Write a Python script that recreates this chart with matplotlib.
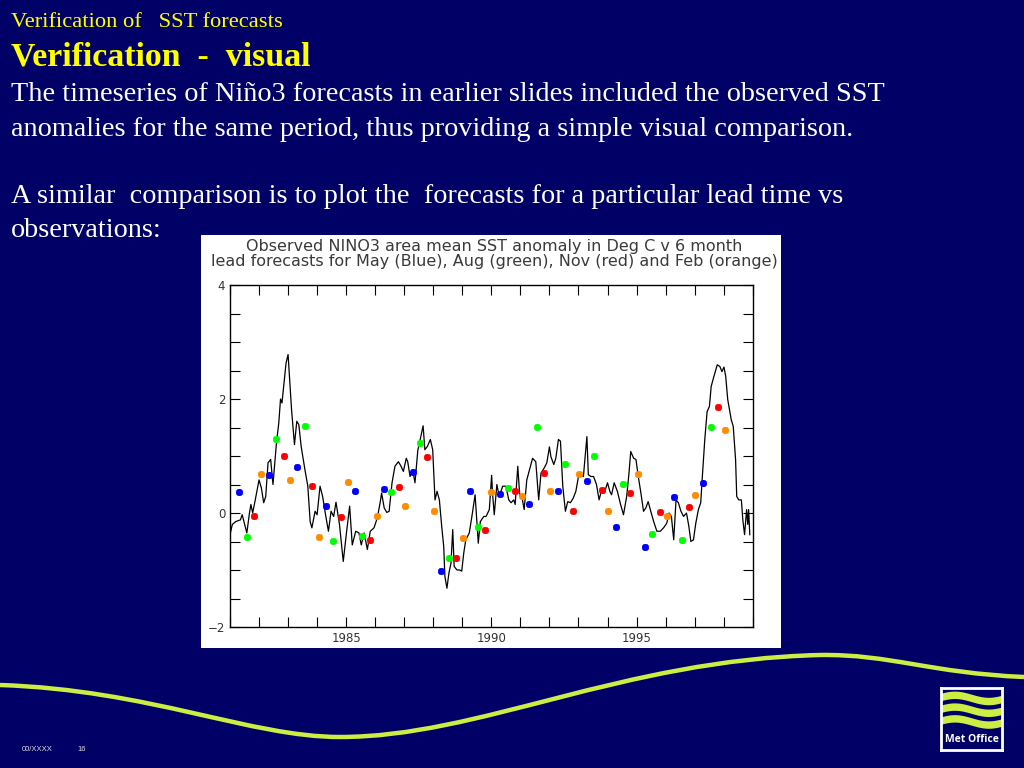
import matplotlib
matplotlib.use("Agg")
import matplotlib.pyplot as plt
import numpy as np
from matplotlib.patches import Rectangle, PathPatch
from matplotlib.path import Path

# observed Nino3 SST anomaly (year, degC)
obs_t = [1981.00, 1981.08, 1981.20, 1981.36, 1981.42, 1981.48, 1981.58, 1981.67, 1981.72, 1981.78,
         1981.87, 1982.00, 1982.08, 1982.16, 1982.23, 1982.31, 1982.40, 1982.48, 1982.60, 1982.68,
         1982.74, 1982.79, 1982.86, 1982.93, 1983.00, 1983.04, 1983.12, 1983.22, 1983.30, 1983.37,
         1983.45, 1983.58, 1983.68, 1983.76, 1983.82, 1983.93, 1984.00, 1984.10, 1984.19, 1984.29,
         1984.39, 1984.48, 1984.57, 1984.65, 1984.77, 1984.90, 1985.01, 1985.12, 1985.21, 1985.33,
         1985.44, 1985.52, 1985.62, 1985.73, 1985.83, 1985.96, 1986.07, 1986.17, 1986.22, 1986.31,
         1986.40, 1986.48, 1986.58, 1986.68, 1986.80, 1986.89, 1986.97, 1987.07, 1987.12, 1987.20,
         1987.29, 1987.37, 1987.47, 1987.55, 1987.65, 1987.71, 1987.80, 1987.90, 1987.98, 1988.06,
         1988.13, 1988.21, 1988.29, 1988.36, 1988.40, 1988.47, 1988.54, 1988.61, 1988.67, 1988.72,
         1988.82, 1988.91, 1988.98, 1989.05, 1989.12, 1989.24, 1989.33, 1989.44, 1989.51, 1989.55,
         1989.62, 1989.74, 1989.82, 1989.93, 1990.01, 1990.04, 1990.10, 1990.19, 1990.27, 1990.39,
         1990.50, 1990.60, 1990.68, 1990.77, 1990.82, 1990.91, 1990.98, 1991.05, 1991.13, 1991.22,
         1991.30, 1991.42, 1991.53, 1991.63, 1991.71, 1991.82, 1991.91, 1992.00, 1992.05, 1992.15,
         1992.22, 1992.31, 1992.38, 1992.46, 1992.55, 1992.63, 1992.72, 1992.82, 1992.91, 1993.00,
         1993.08, 1993.17, 1993.23, 1993.29, 1993.34, 1993.43, 1993.52, 1993.62, 1993.71, 1993.80,
         1993.89, 1994.00, 1994.08, 1994.14, 1994.23, 1994.34, 1994.45, 1994.55, 1994.66, 1994.74,
         1994.80, 1994.90, 1994.98, 1995.06, 1995.15, 1995.24, 1995.32, 1995.40, 1995.49, 1995.59,
         1995.70, 1995.82, 1995.93, 1996.04, 1996.12, 1996.20, 1996.28, 1996.36, 1996.44, 1996.53,
         1996.62, 1996.72, 1996.80, 1996.87, 1996.96, 1997.04, 1997.13, 1997.21, 1997.27, 1997.35,
         1997.43, 1997.51, 1997.57, 1997.65, 1997.78, 1997.87, 1997.94, 1998.01, 1998.07, 1998.14,
         1998.26, 1998.33, 1998.41, 1998.45, 1998.52, 1998.61, 1998.66, 1998.72, 1998.79, 1998.83,
         1998.86, 1998.90]
obs_v = [-0.38, -0.20, -0.15, -0.12, -0.03, -0.15, -0.35, 0.00, 0.15, 0.00,
         0.23, 0.58, 0.44, 0.18, 0.29, 0.88, 0.94, 0.50, 1.23, 1.58,
         2.00, 1.93, 2.28, 2.63, 2.78, 2.46, 1.81, 1.20, 1.61, 1.55,
         1.17, 0.76, 0.47, -0.15, -0.26, 0.03, -0.03, 0.47, 0.29, -0.03,
         -0.32, 0.03, -0.06, 0.19, -0.20, -0.85, -0.35, 0.12, -0.56, -0.32,
         -0.35, -0.56, -0.35, -0.64, -0.32, -0.26, -0.09, 0.18, 0.35, 0.09,
         0.01, 0.03, 0.53, 0.82, 0.90, 0.82, 0.73, 0.96, 0.90, 0.64,
         0.76, 0.53, 1.11, 1.29, 1.53, 1.11, 1.17, 1.29, 1.11, 0.23,
         0.38, 0.23, -0.23, -0.59, -1.11, -1.32, -1.05, -0.88, -0.29, -0.94,
         -1.00, -1.00, -1.02, -0.70, -0.47, -0.35, -0.06, 0.32, -0.23, -0.53,
         -0.15, -0.06, -0.06, 0.06, 0.66, 0.35, -0.03, 0.50, 0.29, 0.47,
         0.47, 0.23, 0.18, 0.23, 0.15, 0.82, 0.29, 0.29, 0.06, 0.58,
         0.73, 0.96, 0.90, 0.23, 0.70, 0.79, 0.88, 1.16, 0.99, 0.85,
         0.96, 1.29, 1.26, 0.47, 0.03, 0.20, 0.18, 0.26, 0.38, 0.64,
         0.67, 0.64, 0.99, 1.34, 0.67, 0.64, 0.64, 0.50, 0.23, 0.41,
         0.35, 0.53, 0.38, 0.32, 0.53, 0.38, 0.15, -0.03, 0.29, 0.70,
         1.08, 0.96, 0.94, 0.64, 0.35, 0.03, 0.09, 0.20, 0.03, -0.15,
         -0.32, -0.32, -0.26, -0.18, 0.00, -0.06, -0.47, 0.23, 0.18, 0.03,
         -0.06, 0.00, -0.23, -0.50, -0.47, -0.18, 0.06, 0.18, 0.67, 1.29,
         1.78, 1.87, 2.22, 2.37, 2.60, 2.57, 2.48, 2.56, 2.40, 1.99,
         1.64, 1.52, 0.94, 0.29, 0.23, 0.23, -0.12, -0.38, 0.06, -0.20,
         0.06, -0.38]

# 6 month lead forecasts
may_t = [1981.32, 1982.33, 1983.32, 1984.31, 1985.30, 1986.29, 1987.29, 1988.28, 1989.28,
         1990.30, 1991.30, 1992.29, 1993.28, 1994.28, 1995.29, 1996.30, 1997.28]
may_v = [0.37, 0.67, 0.80, 0.13, 0.39, 0.42, 0.72, -1.02, 0.39,
         0.34, 0.16, 0.39, 0.57, -0.25, -0.60, 0.28, 0.52]
aug_t = [1981.58, 1982.60, 1983.57, 1984.56, 1985.56, 1986.56, 1987.55, 1988.54, 1989.53,
         1990.56, 1991.56, 1992.55, 1993.54, 1994.53, 1995.54, 1996.55, 1997.55]
aug_v = [-0.42, 1.30, 1.52, -0.49, -0.40, 0.36, 1.22, -0.79, -0.25,
         0.44, 1.51, 0.86, 1.00, 0.51, -0.36, -0.48, 1.51]
nov_t = [1981.82, 1982.85, 1983.83, 1984.82, 1985.82, 1986.81, 1987.80, 1988.79, 1989.79,
         1990.81, 1991.82, 1992.81, 1993.80, 1994.79, 1995.80, 1996.79, 1997.79]
nov_v = [-0.06, 1.00, 0.48, -0.07, -0.48, 0.46, 0.98, -0.79, -0.29,
         0.39, 0.71, 0.03, 0.41, 0.35, 0.02, 0.10, 1.86]
feb_t = [1982.06, 1983.06, 1984.05, 1985.05, 1986.05, 1987.04, 1988.03, 1989.03, 1990.00,
         1991.05, 1992.03, 1993.03, 1994.02, 1995.04, 1996.05, 1997.03, 1998.03]
feb_v = [0.69, 0.58, -0.42, 0.54, -0.06, 0.13, 0.04, -0.43, 0.36,
         0.30, 0.39, 0.68, 0.03, 0.68, -0.06, 0.32, 1.46]

year_ticks = [1985, 1990, 1995]
value_ticks = [-2, 0, 2, 4]

W, H = 1024, 768
NAVY = "#000066"
LIME = "#CCEE44"


def fx(px):
    return px / W


def fy(py):
    return 1 - py / H


fig = plt.figure(figsize=(W / 100, H / 100), dpi=100, facecolor=NAVY)

serif = ["Liberation Serif", "DejaVu Serif"]
fig.text(fx(11), fy(27), "Verification of   SST forecasts", color="yellow",
         fontsize=16.2, family=serif, va="baseline")
fig.text(fx(11), fy(65), "Verification  -  visual", color="yellow",
         fontsize=24.4, family=serif, weight="bold", va="baseline")
body = [
    (101, "The timeseries of Niño3 forecasts in earlier slides included the observed SST"),
    (136, "anomalies for the same period, thus providing a simple visual comparison."),
    (203, "A similar  comparison is to plot the  forecasts for a particular lead time vs"),
    (237, "observations:"),
]
for yb, s in body:
    fig.text(fx(11), fy(yb), s, color="white", fontsize=20.3, family=serif, va="baseline")

# white panel holding the chart
fig.patches.append(Rectangle((fx(201), fy(648)), (781 - 201) / W, (648 - 235) / H,
                             transform=fig.transFigure, facecolor="white",
                             edgecolor="none", zorder=-1))
fig.text(fx(494), fy(247), "Observed NINO3 area mean SST anomaly in Deg C v 6 month",
         ha="center", va="center", fontsize=11.5, color="#3a3a3a")
fig.text(fx(494), fy(262), "lead forecasts for May (Blue), Aug (green), Nov (red) and Feb (orange)",
         ha="center", va="center", fontsize=11.5, color="#3a3a3a")

ax = fig.add_axes([fx(230), fy(627), (752.7 - 230) / W, (627 - 285) / H])
ax.set_facecolor("white")
ax.plot(obs_t, obs_v, color="black", lw=0.9)
mk = dict(marker=(8, 2, 0), ms=5, mew=1.3, ls="none")
ax.plot(may_t, may_v, color="#0000FF", **mk)
ax.plot(aug_t, aug_v, color="#00FF00", **mk)
ax.plot(nov_t, nov_v, color="#FF0000", **mk)
ax.plot(feb_t, feb_v, color="#FF8C00", **mk)

ax.set_xlim(1981, 1999)
ax.set_ylim(-2, 4)
ax.set_xticks(year_ticks)
ax.set_xticks(np.arange(1981, 2000), minor=True)
ax.set_yticks(value_ticks)
ax.set_yticks(np.arange(-2, 4.01, 0.5), minor=True)
ax.set_yticklabels(["\u22122", "0", "2", "4"])
ax.tick_params(which="both", direction="in", top=True, right=True, length=7,
               width=0.8, labelsize=8.5, colors="black", labelcolor="#333333")
for s in ax.spines.values():
    s.set_linewidth(1.0)

# lime swoosh across the bottom of the slide
verts = [(0, 685), (150, 690), (250, 737), (340, 737),
         (480, 737), (620, 660), (820, 655),
         (890, 654), (930, 673), (1024, 677)]
codes = [Path.MOVETO] + [Path.CURVE4] * 9
path = Path([(fx(x), fy(y)) for x, y in verts], codes)
fig.patches.append(PathPatch(path, transform=fig.transFigure, facecolor="none",
                             edgecolor=LIME, lw=3.2, zorder=1))

fig.text(fx(22), fy(751), "00/XXXX", color="#DDDDDD", fontsize=5.5, family="Liberation Sans")
fig.text(fx(77), fy(751), "16", color="#DDDDDD", fontsize=5.5, family="Liberation Sans")

# Met Office logo
lg = fig.add_axes([fx(941), fy(750), 61 / W, 62 / H])
lg.set_facecolor(NAVY)
lg.set_xlim(0, 1)
lg.set_ylim(0, 1)
lg.set_xticks([])
lg.set_yticks([])
for s in lg.spines.values():
    s.set_color("white")
    s.set_linewidth(2)
xx = np.linspace(0, 1, 100)
for c in [0.84, 0.65, 0.46]:
    mid = c + 0.05 * np.sin(2 * np.pi * (0.9 * xx + 0.05))
    lg.fill_between(xx, mid - 0.06, mid + 0.06, color=LIME, lw=0)
lg.text(0.5, 0.17, "Met Office", color="white", fontsize=7.5, weight="bold",
        ha="center", va="center", family=["Open Sans", "DejaVu Sans"])

fig.savefig("out.png", dpi=100, facecolor=NAVY)
